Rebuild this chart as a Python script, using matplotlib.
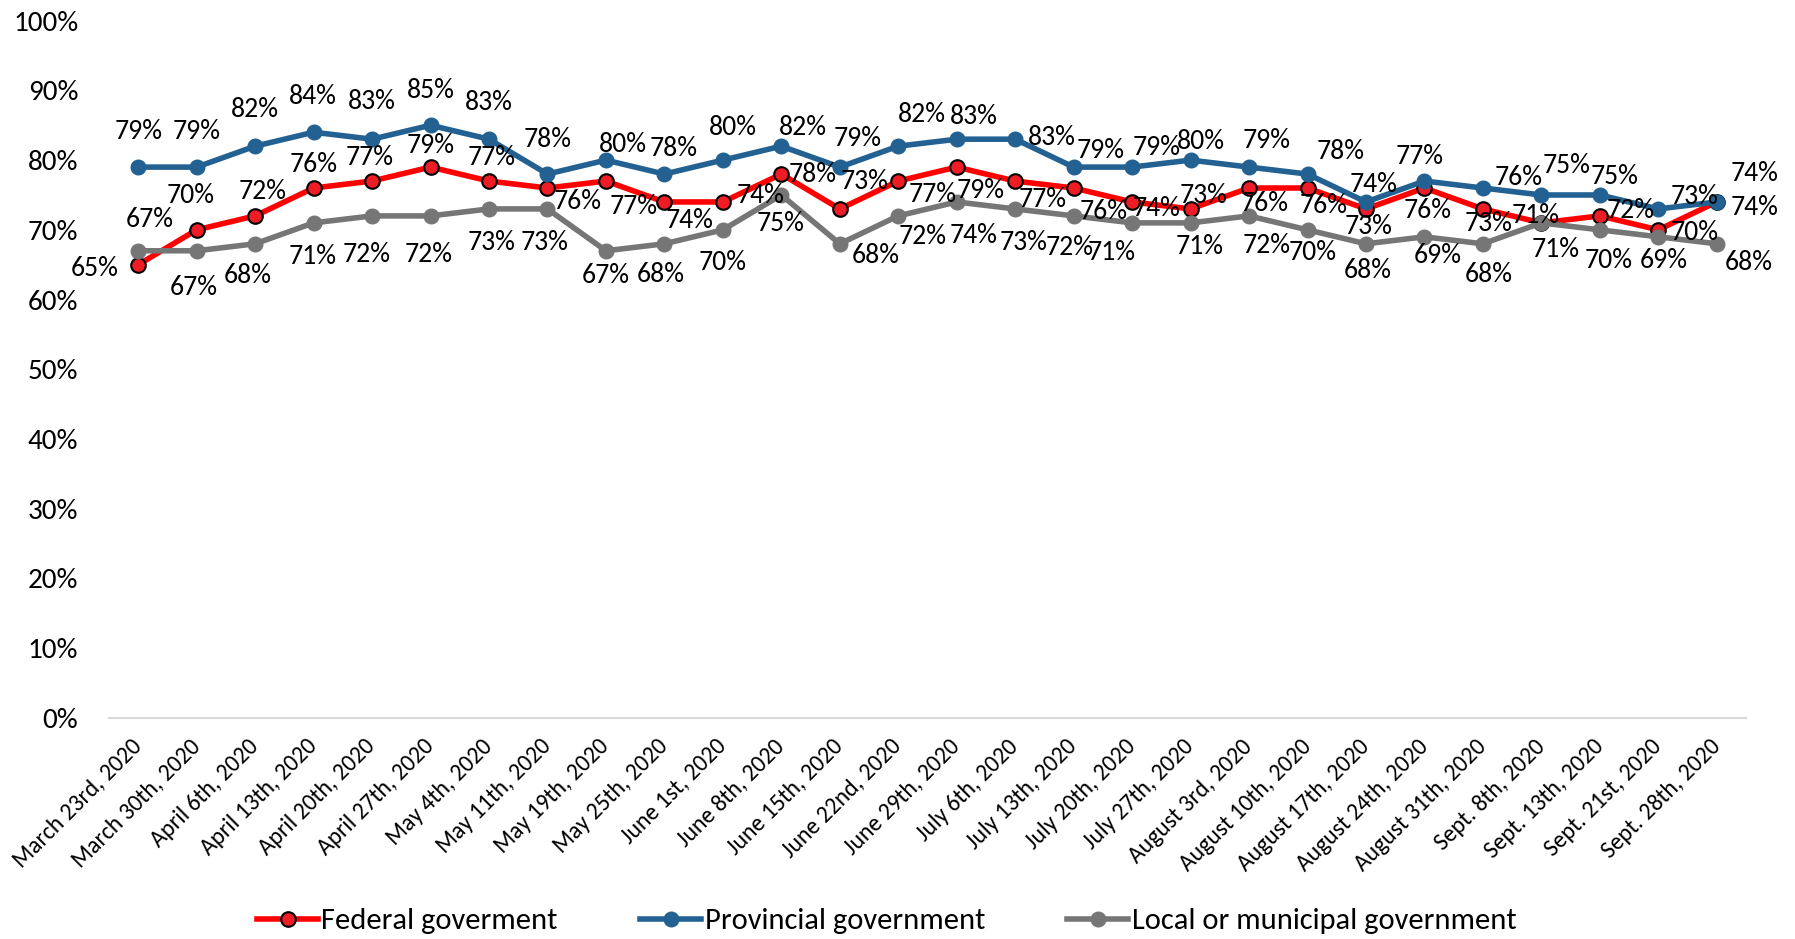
import matplotlib
matplotlib.use("Agg")
import matplotlib.pyplot as plt
from matplotlib.ticker import PercentFormatter

plt.rcParams['font.family'] = ['Carlito', 'Liberation Sans Narrow', 'DejaVu Sans']

dates = ["March 23rd, 2020", "March 30th, 2020", "April 6th, 2020", "April 13th, 2020",
         "April 20th, 2020", "April 27th, 2020", "May 4th, 2020", "May 11th, 2020",
         "May 19th, 2020", "May 25th, 2020", "June 1st, 2020", "June 8th, 2020",
         "June 15th, 2020", "June 22nd, 2020", "June 29th, 2020", "July 6th, 2020",
         "July 13th, 2020", "July 20th, 2020", "July 27th, 2020", "August 3rd, 2020",
         "August 10th, 2020", "August 17th, 2020", "August 24th, 2020", "August 31th, 2020",
         "Sept. 8th, 2020", "Sept. 13th, 2020", "Sept. 21st, 2020", "Sept. 28th, 2020"]

federal = [65, 70, 72, 76, 77, 79, 77, 76, 77, 74, 74, 78, 73, 77,
           79, 77, 76, 74, 73, 76, 76, 73, 76, 73, 71, 72, 70, 74]
provincial = [79, 79, 82, 84, 83, 85, 83, 78, 80, 78, 80, 82, 79, 82,
              83, 83, 79, 79, 80, 79, 78, 74, 77, 76, 75, 75, 73, 74]
local = [67, 67, 68, 71, 72, 72, 73, 73, 67, 68, 70, 75, 68, 72,
         74, 73, 72, 71, 71, 72, 70, 68, 69, 68, 71, 70, 69, 68]

# label offsets (rough pixel units, +y = down), Excel-style placement
fed_off = [(-39, 4), (-5, -33), (7, -23), (0, -23), (-2, -23), (0, -21), (2, -23), (27, 13),
           (25, 24), (23, 18), (34, -6), (28, 0), (22, -26), (31, 13), (22, 22), (25, 18),
           (27, 23), (22, 6), (12, -13), (14, 15), (15, 17), (2, 17), (3, 22), (5, 14),
           (-5, -7), (28, -5), (33, 3), (34, 5)]
prov_off = [(0, -34), (0, -34), (0, -35), (-1, -34), (0, -36), (0, -33), (0, -35), (0, -33),
            (15, -15), (8, -25), (9, -31), (19, -18), (16, -27), (21, -30), (15, -22), (33, -2),
            (24, -16), (22, -19), (9, -18), (16, -26), (30, -22), (7, -17), (-4, -24), (32, -10),
            (23, -28), (13, -18), (33, -12), (34, -27)]
local_off = [(10, -30), (-3, 35), (-7, 30), (-1, 32), (-5, 37), (-2, 37), (2, 32), (-3, 32),
             (0, 24), (-3, 29), (0, 31), (-1, 27), (32, 11), (22, 20), (15, 32), (8, 32),
             (-4, 30), (-18, 28), (8, 23), (16, 28), (5, 22), (2, 26), (12, 18), (5, 29),
             (13, 26), (8, 29), (5, 23), (29, 18)]

fig = plt.figure(figsize=(17.95, 9.39), dpi=100)
ax = fig.add_axes([0.0607, 0.2354, 0.912, 0.7426])

x = range(len(dates))
series = [
    ("Federal goverment", federal, fed_off,
     dict(color='#FF0000', marker='o', markerfacecolor='#EE1C25', markeredgecolor='black',
          markeredgewidth=1.5, markersize=10.5)),
    ("Provincial government", provincial, prov_off,
     dict(color='#236192', marker='o', markerfacecolor='#236192', markeredgecolor='#236192',
          markersize=10.5)),
    ("Local or municipal government", local, local_off,
     dict(color='#767676', marker='o', markerfacecolor='#767676', markeredgecolor='#767676',
          markersize=10.5)),
]

for name, vals, offs, style in series:
    ax.plot(x, vals, lw=4, label=name, **style)
    for i, v in enumerate(vals):
        dx, dy = offs[i]
        ax.annotate(f"{v}%", (i, v), xytext=(dx * 0.8, -dy * 0.75), textcoords='offset points',
                    ha='center', va='center', fontsize=20, color='black')

ax.set_ylim(0, 100)
ax.set_xlim(-0.5, len(dates) - 0.5)
ax.set_yticks(range(0, 101, 10))
ax.yaxis.set_major_formatter(PercentFormatter(decimals=0))
ax.set_xticks(list(x))
ax.set_xticklabels(dates, rotation=45, ha='right', va='center', rotation_mode='anchor', fontsize=17)
ax.tick_params(axis='y', length=0, labelsize=21, pad=22)
ax.tick_params(axis='x', length=0, pad=18)

for s in ['top', 'right', 'left']:
    ax.spines[s].set_visible(False)
ax.spines['bottom'].set_color('#D9D9D9')
ax.spines['bottom'].set_linewidth(1.5)

fig.legend(loc='center', bbox_to_anchor=(0.494, 0.019), ncol=3, frameon=False,
           fontsize=22, handlelength=2.0, handletextpad=0.1, columnspacing=2.7)

fig.savefig("out.png", dpi=100)
